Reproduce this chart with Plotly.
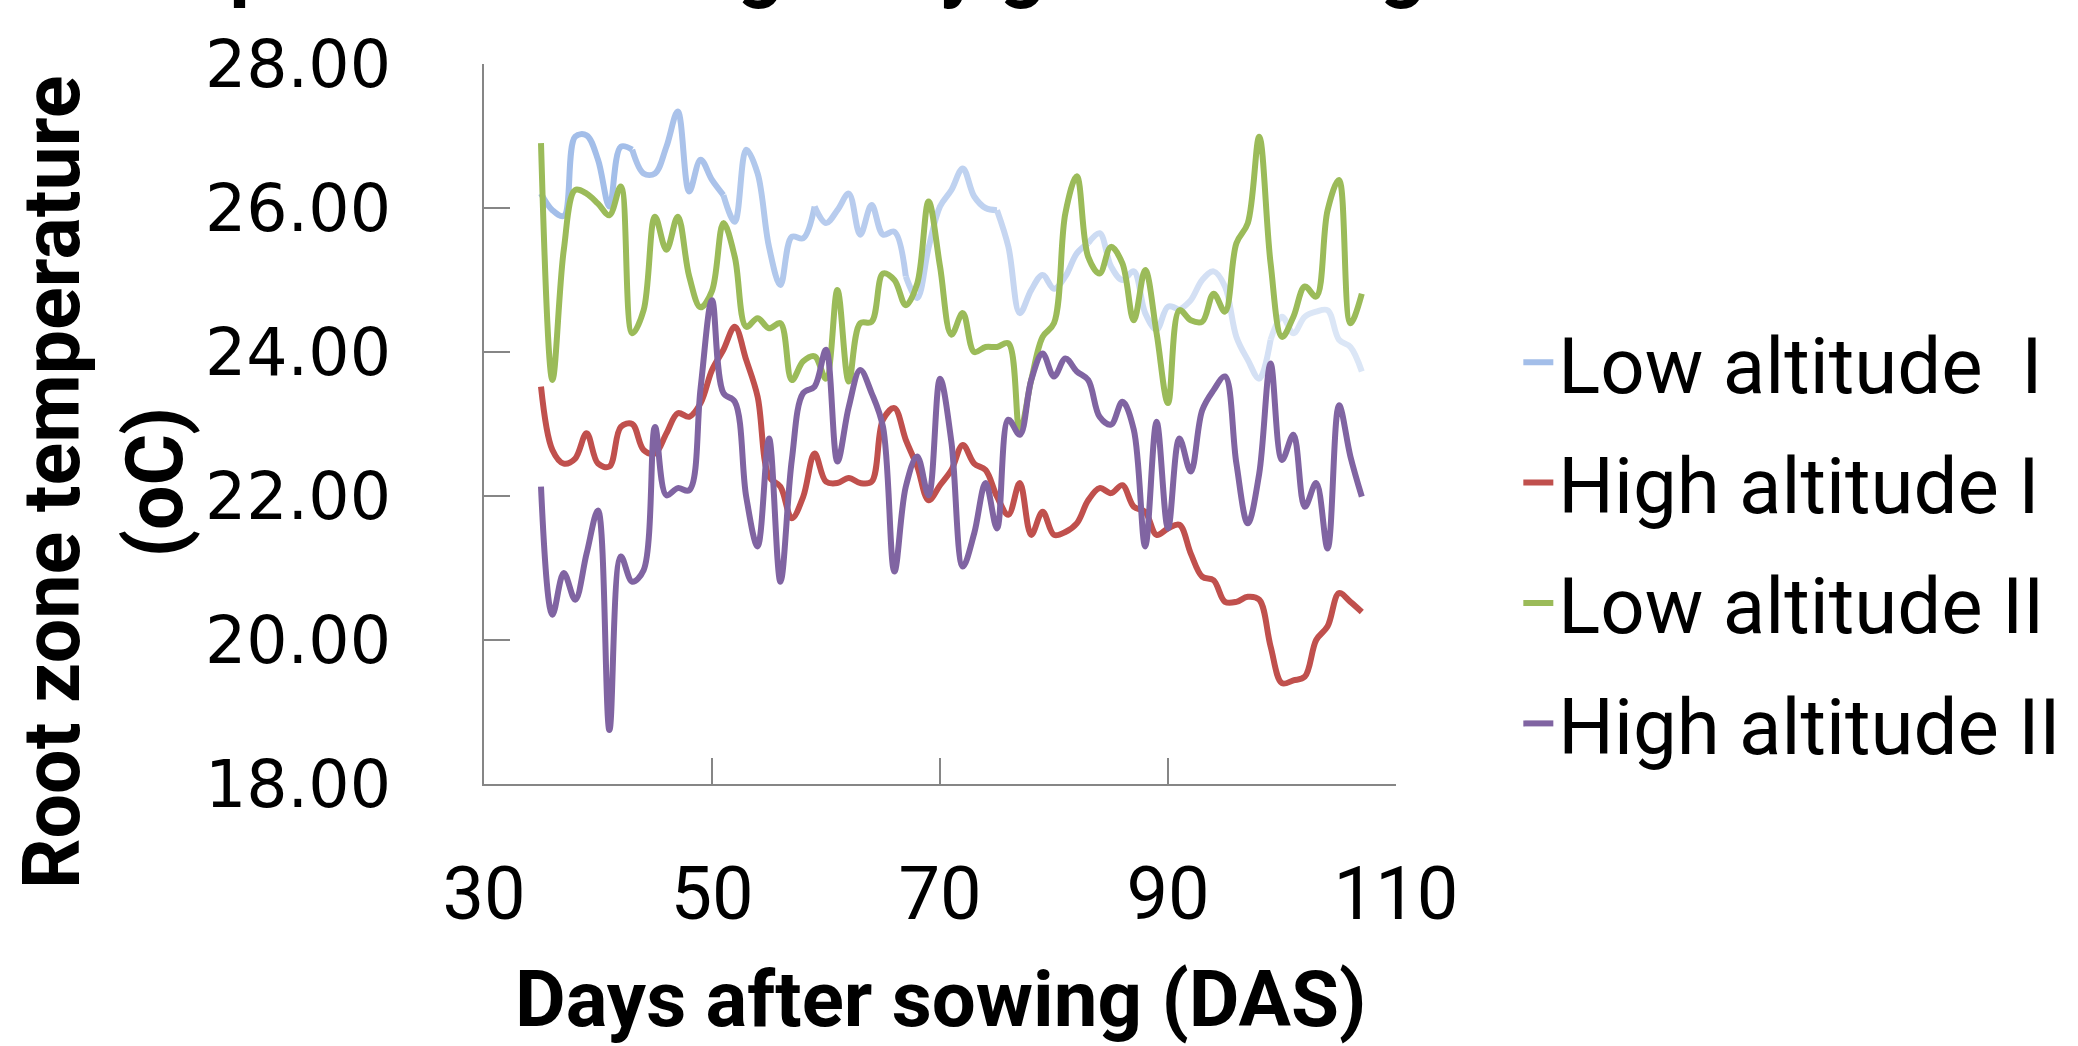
import plotly.graph_objects as go

# ---------------- data ----------------
days = list(range(35, 108))

low_alt_1 = [26.20, 25.97, 25.89, 26.99, 27.01, 26.67, 26.02, 26.85, 26.81, 26.48,
             26.48, 26.85, 27.34, 26.23, 26.67, 26.39, 26.18, 25.81, 26.81, 26.48,
             25.46, 24.93, 25.60, 25.58, 26.02, 25.79, 25.97, 26.20, 25.63, 26.04,
             25.63, 25.67, 25.05, 24.75, 25.45, 26.02, 26.25, 26.55, 26.16, 26.00,
             25.97, 25.46, 24.54, 24.86, 25.07, 24.88, 25.05, 25.37, 25.51, 25.65,
             25.19, 25.00, 25.12, 24.54, 24.31, 24.63, 24.58, 24.72, 25.00, 25.12,
             24.91, 24.21, 23.89, 23.63, 24.17, 24.49, 24.26, 24.49, 24.56, 24.58,
             24.17, 24.07, 23.73]

high_alt_1 = [23.52, 22.64, 22.45, 22.52, 22.87, 22.45, 22.41, 22.96, 23.00, 22.64,
              22.59, 22.87, 23.15, 23.10, 23.29, 23.75, 24.03, 24.35, 23.89, 23.38,
              22.27, 22.13, 21.69, 21.99, 22.59, 22.20, 22.18, 22.25, 22.18, 22.20,
              23.06, 23.22, 22.78, 22.41, 21.94, 22.15, 22.36, 22.71, 22.45, 22.36,
              21.99, 21.74, 22.18, 21.46, 21.78, 21.46, 21.50, 21.62, 21.94, 22.11,
              22.04, 22.15, 21.85, 21.78, 21.46, 21.55, 21.60, 21.20, 20.88, 20.83,
              20.53, 20.53, 20.60, 20.56, 19.91, 19.40, 19.44, 19.49, 20.00, 20.19,
              20.65, 20.53, 20.39]

low_alt_2 = [26.90, 23.61, 25.42, 26.25, 26.20, 26.06, 25.90, 26.30, 24.26, 24.58,
             25.88, 25.42, 25.88, 25.05, 24.62, 24.85, 25.79, 25.32, 24.35, 24.47,
             24.33, 24.40, 23.61, 23.87, 23.94, 23.63, 24.86, 23.59, 24.40, 24.42,
             25.09, 25.00, 24.65, 24.95, 26.09, 25.19, 24.24, 24.54, 24.00, 24.07,
             24.07, 24.12, 22.90, 23.61, 24.21, 24.40, 25.93, 26.44, 25.32, 25.09,
             25.46, 25.23, 24.44, 25.14, 24.26, 23.29, 24.58, 24.44, 24.42, 24.81,
             24.56, 25.51, 25.79, 26.99, 25.23, 24.21, 24.49, 24.91, 24.77, 25.97,
             26.39, 24.40, 24.81]

high_alt_2 = [22.13, 20.35, 20.93, 20.56, 21.20, 21.80, 18.75, 21.16, 20.81, 20.97,
              22.96, 22.01, 22.11, 22.08, 23.50, 24.72, 23.43, 23.31, 21.99, 21.30,
              22.80, 20.81, 22.50, 23.43, 23.52, 24.03, 22.48, 23.24, 23.75, 23.43,
              22.96, 20.95, 22.13, 22.55, 22.01, 23.63, 22.75, 21.02, 21.48, 22.18,
              21.55, 23.06, 22.85, 23.61, 23.98, 23.66, 23.91, 23.73, 23.61, 23.10,
              22.99, 23.31, 22.92, 21.30, 23.03, 21.55, 22.80, 22.34, 23.19, 23.47,
              23.66, 22.45, 21.62, 22.31, 23.84, 22.50, 22.85, 21.85, 22.18, 21.27,
              23.26, 22.55, 21.99]

series_names = ["Low altitude  I", "High altitude I", "Low altitude II", "High altitude II"]
x_ticks = [30, 50, 70, 90, 110]
y_ticks = [18, 20, 22, 24, 26, 28]

# ---------------- styling ----------------
W, H = 2078, 1046
PL, PR, PT, PB = 484, 1401, 64, 784      # plot area in pixels
LW = 6
AXIS_COL = "#868686"
BLUE_START = (160, 187, 232)
BLUE_END = (222, 232, 247)


def px_x(p):
    return (p - PL) / (PR - PL)


def px_y(p):
    return (PB - p) / (PB - PT)


def lerp(c1, c2, t):
    return "rgb(%d,%d,%d)" % tuple(round(a + (b - a) * t) for a, b in zip(c1, c2))


fig = go.Figure()

# Low altitude I drawn with a colour gradient (segments)
seg = 8
n = len(days)
k = 0
for s in range(0, n - 1, seg):
    e = min(s + seg, n - 1)
    t = ((s + e) / 2) / (n - 1)
    fig.add_trace(go.Scatter(
        x=days[s:e + 1], y=low_alt_1[s:e + 1], mode="lines",
        line=dict(color=lerp(BLUE_START, BLUE_END, t), width=LW, shape="spline"),
        name=series_names[0], legendgroup="g1", showlegend=(k == 0)))
    k += 1

for name, vals, col, grp in [
    (series_names[1], high_alt_1, "#c0504d", "g2"),
    (series_names[2], low_alt_2, "#9bbb59", "g3"),
    (series_names[3], high_alt_2, "#8064a2", "g4"),
]:
    fig.add_trace(go.Scatter(
        x=days, y=vals, mode="lines", name=name, legendgroup=grp,
        line=dict(color=col, width=LW, shape="spline")))

fig.update_layout(
    width=W, height=H,
    margin=dict(l=PL, r=W - PR, t=PT, b=H - PB, pad=0),
    paper_bgcolor="white", plot_bgcolor="white",
    font=dict(family="Roboto", color="black"),
    showlegend=True,
    legend=dict(
        x=px_x(1524), xanchor="left", y=px_y(543), yanchor="middle",
        font=dict(family="Roboto", size=78, color="black"),
        tracegroupgap=16, itemwidth=30, bgcolor="rgba(0,0,0,0)",
    ),
)

fig.update_xaxes(
    range=[30, 110], tickvals=x_ticks, ticktext=[str(v) for v in x_ticks],
    showline=True, linecolor=AXIS_COL, linewidth=2,
    ticks="inside", ticklen=26, tickwidth=2, tickcolor=AXIS_COL,
    showgrid=False, zeroline=False,
    tickfont=dict(family="Roboto", size=74, color="black"),
    ticklabelstandoff=44,
)
fig.update_yaxes(
    range=[18, 28], tickvals=y_ticks, ticktext=["%.2f" % v for v in y_ticks],
    showline=True, linecolor=AXIS_COL, linewidth=2,
    ticks="inside", ticklen=26, tickwidth=2, tickcolor=AXIS_COL,
    showgrid=False, zeroline=False,
    tickfont=dict(family="DejaVu Sans", size=65, color="black"),
    ticklabelstandoff=78,
)

# axis titles
fig.add_annotation(
    text="<b>Days after sowing (DAS)</b>", xref="paper", yref="paper",
    x=px_x(943), y=px_y(999), xanchor="center", yanchor="middle",
    showarrow=False, font=dict(family="Roboto", size=78, color="black"))
fig.add_annotation(
    text="<b>Root zone temperature<br>(oC)</b>", xref="paper", yref="paper",
    x=px_x(102), y=px_y(482), xanchor="center", yanchor="middle", textangle=-90,
    showarrow=False, font=dict(family="Roboto", size=79, color="black"))
# chart title (mostly outside the visible page, only descenders show)
fig.add_annotation(
    text="<b>Temperature during early growth stage</b>", xref="paper", yref="paper",
    x=px_x(67), y=px_y(14), xanchor="left", yanchor="bottom",
    showarrow=False, font=dict(family="Roboto", size=80, color="black"))

fig.write_html("out.html")
